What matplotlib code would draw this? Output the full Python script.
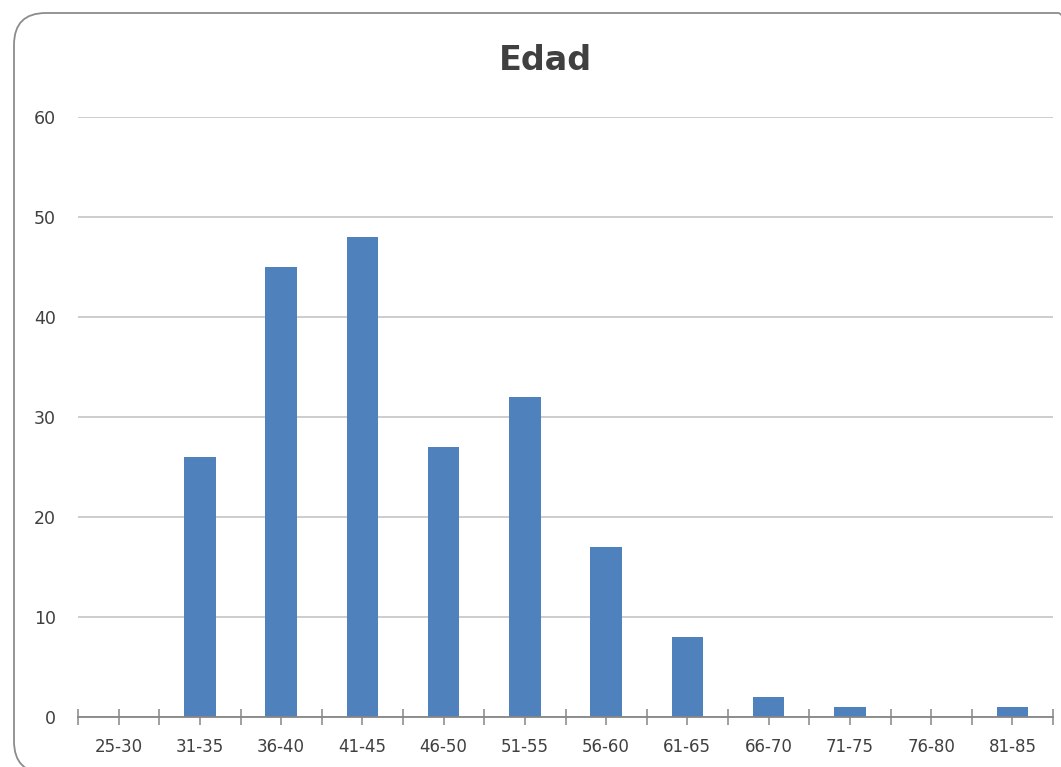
import matplotlib
matplotlib.use("Agg")
import matplotlib.pyplot as plt
from matplotlib.patches import FancyBboxPatch
import numpy as np

categories = ["25-30", "31-35", "36-40", "41-45", "46-50", "51-55",
              "56-60", "61-65", "66-70", "71-75", "76-80", "81-85"]
counts = [0, 26, 45, 48, 27, 32, 17, 8, 2, 1, 0, 1]
yticks = [0, 10, 20, 30, 40, 50, 60]

W, H = 1061, 767
fig = plt.figure(figsize=(W / 100, H / 100), dpi=100)

# rounded chart border, cut off at the right/bottom like the screenshot
border = FancyBboxPatch((14 / W, -6 / H), (1090 - 14) / W, (H - 13 + 6) / H,
                        boxstyle="round,pad=0,rounding_size=0.03",
                        transform=fig.transFigure, fill=False,
                        edgecolor="#8c8c8c", linewidth=1.3, mutation_aspect=W / H)
fig.patches.append(border)

ax = fig.add_axes([78 / W, (H - 717) / H, (1053 - 78) / W, 600 / H])
x = np.arange(len(categories))
ax.bar(x, counts, width=0.39, color="#4f81bd", zorder=3)

ax.set_xlim(-0.5, len(categories) - 0.5)
ax.set_ylim(0, 60)
ax.set_yticks(yticks)
ax.yaxis.grid(True, color="#c0c0c0", linewidth=1.1, zorder=0)
ax.tick_params(axis="y", length=0, pad=16, labelsize=12.5, labelcolor="#404040")

ax.set_xticks(x)
ax.set_xticklabels(categories)
ax.set_xticks(np.arange(-0.5, len(categories)), minor=True)
ax.tick_params(axis="x", which="both", direction="inout", length=12,
               color="#868686", width=1.1, labelsize=12, labelcolor="#404040", pad=9)

for s in ["top", "right", "left"]:
    ax.spines[s].set_visible(False)
ax.spines["bottom"].set_color("#868686")
ax.spines["bottom"].set_linewidth(1.3)
ax.spines["bottom"].set_zorder(4)

fig.text(545 / W, 1 - 60 / H, "Edad", ha="center", va="center",
         fontsize=24, fontweight="bold", color="#404040")

fig.savefig("out.png", dpi=100)
